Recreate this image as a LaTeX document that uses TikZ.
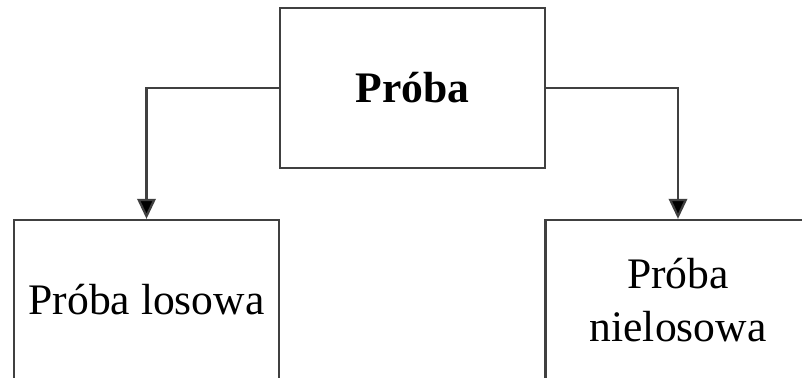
\documentclass[tikz,border=0pt]{standalone}
\usepackage{fontspec}
\setmainfont{Liberation Serif}
\usetikzlibrary{arrows.meta}

\tikzstyle{bx}=[rectangle,draw=black!75,line width=1.6pt,fill=white,minimum height=4cm,minimum width=6.625cm,align=center,font=\fontsize{31}{38}\selectfont]
\tikzstyle{ar}=[-{Triangle[length=0.5cm,width=0.46cm,fill=black]},draw=black!75,line width=1.6pt]

\begin{document}
\begin{tikzpicture}
\clip (0,0) rectangle (20.05,9.45);

%Top: the whole sample
\node [bx] at (10.3125,7.25) (pr) {\bf Próba};

%Below: the two kinds
\node [bx] at (3.6625,1.95) (los) {Próba losowa};
\node [bx] at (16.95,1.95) (nie) {Próba\\nielosowa};

\draw [ar] (pr.west) -| (los.north);
\draw [ar] (pr.east) -| (nie.north);

\end{tikzpicture}
\end{document}
